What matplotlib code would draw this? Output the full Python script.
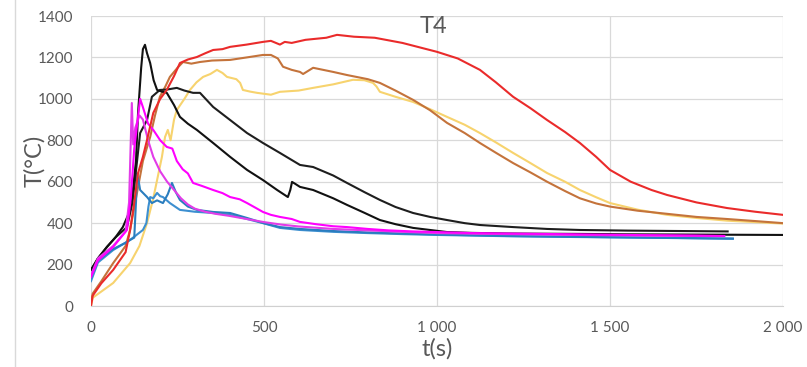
import numpy as np
import matplotlib
matplotlib.use("Agg")
import matplotlib.pyplot as plt
from matplotlib.ticker import FuncFormatter, MultipleLocator
from matplotlib.lines import Line2D

# ---- data (t in s, T in degC)
t_red = [0, 5, 30, 64, 100, 113, 125, 136, 150, 162, 180, 200, 219, 240, 257, 280, 306, 330, 353, 380, 402, 450, 497, 520, 546, 560, 580, 620, 680, 711, 760, 820, 900, 1000, 1060, 1124, 1170, 1220, 1270, 1318, 1370, 1413, 1460, 1500, 1560, 1620, 1665, 1750, 1838, 1920, 2000]
T_red = [0, 50, 110, 174, 260, 367, 500, 642, 720, 802, 932, 1000, 1043, 1110, 1173, 1190, 1202, 1220, 1236, 1240, 1251, 1262, 1275, 1280, 1262, 1275, 1270, 1285, 1295, 1309, 1300, 1295, 1270, 1227, 1195, 1140, 1080, 1010, 955, 898, 840, 787, 720, 657, 600, 560, 536, 500, 473, 455, 440]

t_brown = [0, 5, 30, 64, 100, 113, 130, 150, 171, 185, 199, 215, 228, 250, 266, 290, 315, 350, 402, 450, 497, 520, 540, 555, 580, 604, 613, 642, 700, 740, 800, 835, 880, 931, 980, 1029, 1080, 1124, 1170, 1220, 1270, 1318, 1370, 1413, 1460, 1500, 1580, 1665, 1750, 1838, 1920, 2000]
T_brown = [20, 60, 120, 207, 290, 367, 520, 700, 816, 920, 1010, 1060, 1106, 1150, 1178, 1170, 1178, 1185, 1188, 1200, 1212, 1212, 1195, 1155, 1140, 1130, 1120, 1150, 1130, 1115, 1095, 1077, 1040, 995, 945, 884, 835, 787, 740, 690, 645, 600, 555, 520, 495, 480, 460, 445, 430, 420, 410, 400]

t_yellow = [0, 5, 30, 64, 113, 140, 162, 180, 191, 205, 214, 222, 230, 240, 248, 270, 286, 305, 324, 345, 364, 380, 393, 420, 431, 439, 460, 480, 520, 546, 600, 642, 700, 757, 790, 815, 825, 835, 880, 931, 980, 1029, 1080, 1124, 1170, 1220, 1270, 1318, 1370, 1413, 1460, 1500, 1580, 1665, 1750, 1838, 1920, 2000]
T_yellow = [0, 40, 70, 111, 207, 290, 401, 520, 608, 720, 816, 850, 800, 900, 946, 1000, 1043, 1080, 1106, 1120, 1140, 1125, 1106, 1095, 1077, 1043, 1035, 1029, 1020, 1034, 1040, 1053, 1070, 1092, 1090, 1077, 1060, 1034, 1010, 985, 950, 913, 875, 835, 790, 739, 690, 642, 600, 560, 525, 497, 465, 440, 425, 412, 405, 398]

t_black1 = [0, 20, 46, 70, 92, 110, 121, 130, 136, 145, 150, 156, 162, 171, 181, 191, 205, 219, 240, 257, 280, 306, 353, 402, 451, 497, 538, 569, 576, 581, 590, 604, 642, 700, 740, 790, 835, 880, 931, 980, 1029, 1100, 1200, 1300, 1413, 1550, 1700, 1850, 2000]
T_black1 = [174, 230, 285, 330, 381, 450, 560, 700, 932, 1150, 1240, 1261, 1220, 1173, 1090, 1043, 1035, 1029, 970, 913, 880, 850, 787, 720, 657, 608, 560, 526, 560, 599, 590, 575, 560, 520, 488, 450, 415, 395, 377, 367, 357, 353, 350, 349, 348, 346, 345, 344, 343]

t_black2 = [0, 20, 46, 70, 104, 120, 142, 162, 176, 199, 220, 248, 270, 295, 315, 353, 402, 451, 497, 546, 604, 642, 700, 740, 790, 835, 880, 931, 980, 1029, 1080, 1124, 1220, 1318, 1413, 1550, 1700, 1840]
T_black2 = [174, 230, 285, 330, 381, 500, 835, 898, 1010, 1043, 1045, 1053, 1040, 1029, 1029, 961, 898, 835, 787, 739, 681, 671, 630, 594, 550, 512, 478, 449, 430, 415, 400, 391, 381, 372, 367, 364, 362, 360]

t_mag1 = [0, 20, 64, 104, 115, 125, 135, 142, 150, 165, 180, 200, 219, 235, 248, 265, 280, 295, 320, 353, 380, 402, 430, 451, 480, 497, 520, 546, 580, 604, 650, 700, 740, 800, 860, 931, 1000, 1100, 1200, 1300, 1450, 1600, 1750, 1830]
T_mag1 = [140, 220, 285, 367, 520, 760, 900, 1000, 960, 880, 850, 800, 768, 760, 700, 660, 640, 594, 580, 560, 545, 526, 515, 497, 470, 454, 440, 430, 420, 406, 395, 385, 381, 372, 365, 360, 357, 352, 350, 348, 345, 342, 340, 338]

t_mag2 = [0, 20, 64, 100, 110, 115, 118, 122, 128, 140, 150, 165, 180, 200, 220, 240, 260, 280, 300, 330, 360, 400, 450, 500, 550, 600, 700, 800, 900, 1000, 1200, 1400, 1600, 1830]
T_mag2 = [150, 230, 290, 360, 500, 800, 980, 780, 860, 920, 900, 800, 720, 650, 600, 560, 520, 490, 470, 455, 445, 435, 420, 405, 393, 384, 372, 365, 358, 352, 347, 343, 340, 337]

t_blue1 = [0, 20, 64, 100, 113, 125, 130, 133, 138, 142, 162, 176, 191, 208, 222, 234, 245, 257, 280, 306, 353, 402, 451, 497, 546, 604, 700, 800, 900, 1000, 1200, 1400, 1600, 1855]
T_blue1 = [140, 220, 275, 305, 319, 330, 500, 640, 600, 560, 526, 497, 510, 497, 540, 594, 550, 512, 480, 464, 454, 449, 425, 401, 381, 372, 362, 355, 350, 345, 338, 334, 330, 326]

t_blue2 = [0, 20, 64, 113, 150, 160, 166, 171, 180, 191, 200, 208, 228, 257, 300, 353, 402, 451, 497, 546, 604, 700, 800, 900, 1000, 1200, 1400, 1600, 1855]
T_blue2 = [120, 210, 270, 319, 367, 400, 480, 526, 520, 546, 530, 526, 497, 464, 455, 449, 440, 420, 400, 377, 367, 358, 352, 347, 343, 337, 333, 330, 324]

series = [
    (t_yellow, T_yellow, "#F7D36E"),
    (t_brown, T_brown, "#C4733B"),
    (t_blue2, T_blue2, "#3C8FD0"),
    (t_blue1, T_blue1, "#2A7DBE"),
    (t_black2, T_black2, "#1E1E1E"),
    (t_black1, T_black1, "#111111"),
    (t_mag2, T_mag2, "#E23CE8"),
    (t_mag1, T_mag1, "#FF00FF"),
    (t_red, T_red, "#EA2B2B"),
]

plt.rcParams['font.family'] = ['Lato', 'DejaVu Sans']

fig = plt.figure(figsize=(8.07, 3.67), dpi=100)
ax = fig.add_axes([91/807, 1-306/367, 692/807, 290/367])

for t, T, c in series:
    ax.plot(t, T, color=c, lw=1.5, solid_joinstyle='round')

ax.set_xlim(0, 2000)
ax.set_ylim(0, 1400)
ax.xaxis.set_major_locator(MultipleLocator(500))
ax.yaxis.set_major_locator(MultipleLocator(200))
ax.xaxis.set_major_formatter(FuncFormatter(lambda v, p: f"{int(v):,}".replace(",", " ")))
ax.grid(True, color="#D9D9D9", lw=0.9)
ax.set_axisbelow(True)
for s in ["top", "right", "left"]:
    ax.spines[s].set_visible(False)
ax.spines["bottom"].set_color("#D0D0D0")
ax.tick_params(length=0, labelsize=11, labelcolor="#595959")
ax.tick_params(axis="y", pad=13)
ax.tick_params(axis="x", pad=11)

ax.set_xlabel("t(s)", fontsize=17, color="#595959", labelpad=2)
ax.set_ylabel("T(°C)", fontsize=17, color="#595959", va="center")
ax.yaxis.set_label_coords(-0.082, 0.5)
ax.text(0.495, 0.965, "T4", transform=ax.transAxes, ha="center", va="center",
        fontsize=17, color="#595959")

# thin frame edge at the left of the picture
fig.add_artist(Line2D([15/807, 15/807], [0, 1], color="#D9D9D9", lw=1))

fig.savefig("out.png", dpi=100)
